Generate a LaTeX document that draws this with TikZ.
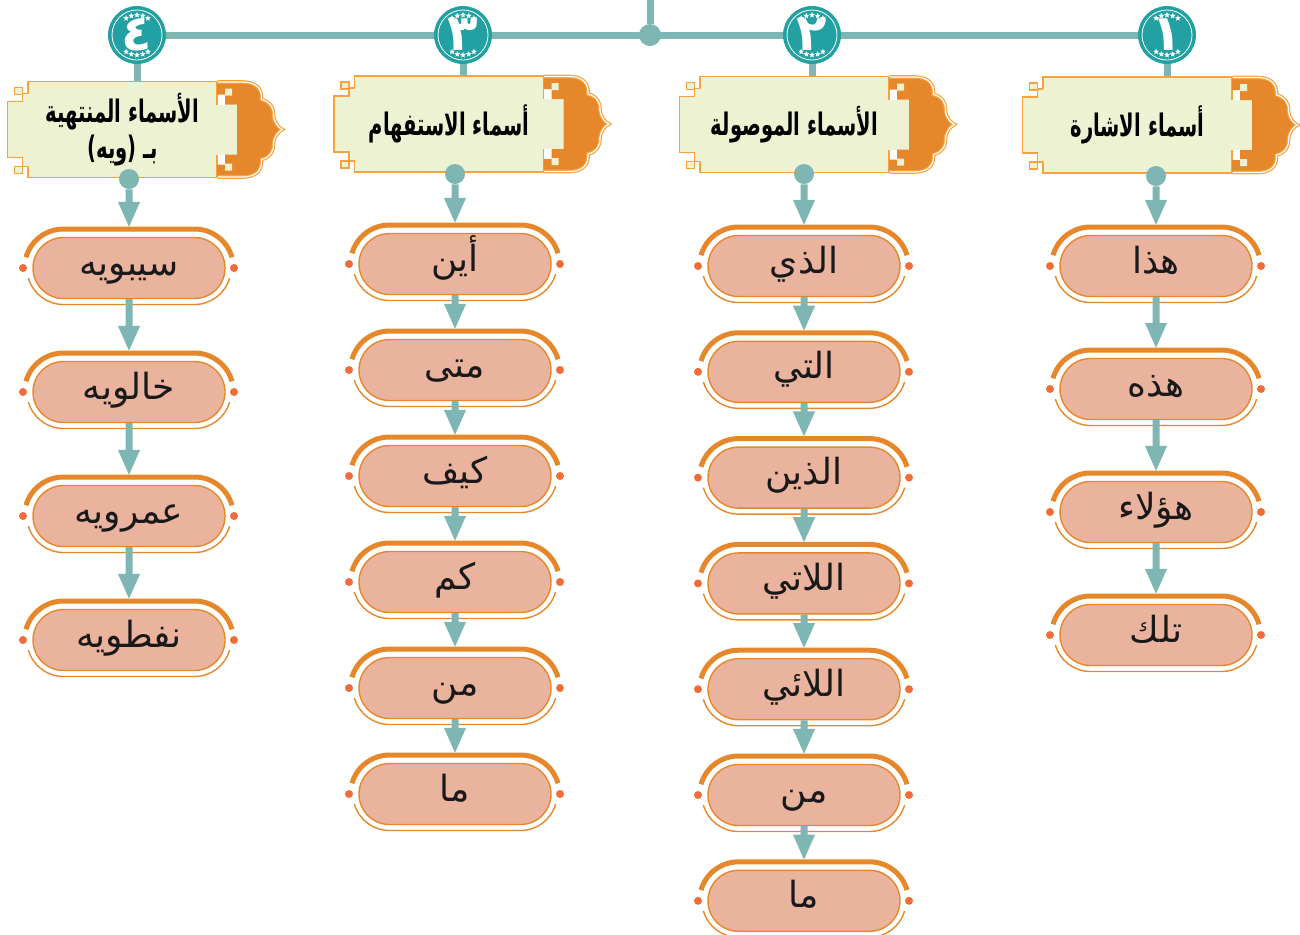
\documentclass[tikz,border=0pt]{standalone}
\usepackage{fontspec}
\newfontfamily\arabicfont[Script=Arabic]{DejaVu Sans}
\newfontfamily\arabickopf[Script=Arabic, FakeStretch=0.63]{DejaVu Sans}
\TeXXeTstate=1
\usetikzlibrary{arrows.meta,shapes.misc,shapes.geometric,backgrounds}

\definecolor{tuerkis}{HTML}{7DB6B3}
\definecolor{kreisgruen}{HTML}{23A1A2}
\definecolor{hellgruen}{HTML}{EDF2D3}
\definecolor{hellorange}{HTML}{F6A23E}
\definecolor{dunkelorange}{HTML}{E5872A}
\definecolor{lachs}{HTML}{EAB39E}
\definecolor{punkt}{HTML}{F26B38}

\newcommand\ar[1]{\arabicfont\beginR #1\endR}
\newcommand\arkopf[1]{\arabickopf\bfseries\beginR #1\endR}

% Boegen und Punkte um einen Eintrag
\newcommand\verzierung[1]{%
  \begin{scope}[shift={(#1.center)}]
    \draw[dunkelorange, line width=2.5pt] (-103,10.75) arc[start angle=164,end angle=90,radius=39]
      -- (65.5,39) arc[start angle=90,end angle=16,radius=39];
    \draw[dunkelorange, line width=0.7pt] (-100.6,-10.06) arc[start angle=196,end angle=270,radius=36.5]
      -- (65.5,-36.5) arc[start angle=270,end angle=344,radius=36.5];
    \fill[punkt] (-106,0) circle[radius=4] (105,0) circle[radius=4];
  \end{scope}}

% Rahmen eines Titels
\newcommand\kopfzier[1]{%
  \begin{scope}[shift={(#1.center)}]
    \fill[hellgruen] (-93,36) -- (-100,36) -- (-100,28) -- (-115,28) -- (-115,-28) -- (-100,-28) -- (-100,-37) -- (-93,-37) -- cycle;
    \draw[hellorange, line width=0.8pt] (-94.5,36) -- (-100,36) -- (-100,28) -- (-115,28) -- (-115,-28) -- (-100,-28) -- (-100,-37) -- (-94.5,-37);
    \draw[hellorange, line width=0.8pt, fill=hellgruen] (-108,35) rectangle (-100,42) (-108,-37) rectangle (-100,-44);
    \fill[hellgruen] (93,-25) rectangle (116,25);
    \fill[dunkelorange] (94.5,48) -- (120,48) .. controls (132,48) and (140,42) .. (139,30)
      .. controls (148,28) and (152,20) .. (151,14) .. controls (152,6) and (156,2) .. (160,0)
      .. controls (156,-2) and (152,-6) .. (151,-14) .. controls (152,-20) and (148,-28) .. (139,-30)
      .. controls (140,-42) and (132,-48) .. (120,-48) -- (94.5,-48) -- (94.5,-35) -- (102.5,-35)
      -- (102.5,-25) -- (114.5,-25) -- (114.5,25) -- (102.5,25) -- (102.5,35) -- (94.5,35) -- cycle;
    \draw[hellorange, double=white, double distance=0.6pt, line width=0.6pt] (95,47.5) -- (120,47.5)
      .. controls (132,47.5) and (140,42) .. (139,30)
      .. controls (148,28) and (152,20) .. (151,14) .. controls (152,6) and (156,2) .. (160,0)
      .. controls (156,-2) and (152,-6) .. (151,-14) .. controls (152,-20) and (148,-28) .. (139,-30)
      .. controls (140,-42) and (132,-47.5) .. (120,-47.5) -- (95,-47.5);
    \fill[hellgruen] (102.5,34) rectangle (109.5,41) (102.5,-41) rectangle (109.5,-34);
  \end{scope}}

\begin{document}
\begin{tikzpicture}[x=0.5pt, y=0.5pt,
  linie/.style={draw=tuerkis, line width=3.5pt},
  pfeil/.style={draw=tuerkis, line width=3.5pt, -{Triangle[width=10pt,length=13pt]}, shorten >=4.5pt},
  kreis/.style={circle, fill=kreisgruen, minimum size=29pt, inner sep=0pt, text=white,
    font=\bfseries\fontsize{25}{25}\selectfont},
  stern/.style={star, star points=5, star point ratio=2.2, fill=white, inner sep=0pt, minimum size=3pt},
  knopf/.style={circle, fill=tuerkis, minimum size=10pt, inner sep=0pt},
  kopf/.style={rectangle, fill=hellgruen, draw=hellorange, line width=0.8pt, minimum width=94.5pt,
    minimum height=48pt, inner sep=0pt, align=center, font=\fontsize{15.5}{18}\selectfont},
  eintrag/.style={rounded rectangle, fill=lachs, draw=dunkelorange, line width=0.7pt, minimum width=96pt,
    minimum height=30.5pt, inner sep=0pt, text height=12.5pt, text depth=5.5pt, text=black!90,
    font=\fontsize{18}{20}\selectfont}]
  \useasboundingbox (0,0) rectangle (1300,-934);

  % Titel
  \foreach \n/\x/\y/\t in {1/1137.5/125/{\arkopf{أسماء الاشارة}},
                           2/794.5/124.5/{\arkopf{الأسماء الموصولة}},
                           3/449/124/{\arkopf{أسماء الاستفهام}},
                           4/122.5/129.5/{\arkopf{الأسماء المنتهية}\\\arkopf{بـ (ويه)}}} {
    \node[kopf] (h\n) at (\x,-\y) {\t};
    \kopfzier{h\n}
  }

  % Kreise mit Nummern
  \foreach \n/\x/\z in {1/1167/١,2/812/٢,3/463/٣,4/137/٤} {
    \node[kreis] (k\n) at (\x,-35) {\ar{\z}};
    \draw[white, line width=0.4pt] (k\n) circle[radius=25];
    \foreach \w in {57,73.5,90,106.5,123} {
      \node[stern] at ([shift={(\w:20)}]k\n) {};
      \node[stern] at ([shift={(-\w:20)}]k\n) {};
    }
  }

  % Verbindungslinien oben
  \coordinate (oben) at (650,5);
  \node[knopf, minimum size=11pt] (mitte) at (650,-35) {};
  \begin{scope}[on background layer]
    \draw[linie] (oben) -- (mitte);
    \draw[linie] (k4) -- (k1);
    \foreach \n in {1,...,4}
      \draw[linie] (k\n) -- (k\n |- h\n.north);
  \end{scope}

  % Spalte 1
  \node[knopf] (s1-0) at (1156,-176) {};
  \foreach \t [count=\i, remember=\i as \j (initially 0)] in {هذا,هذه,هؤلاء,تلك} {
    \node[eintrag] (s1-\i) at (1156,{-266-123*(\i-1)}) {\ar{\t}};
    \verzierung{s1-\i}
    \draw[pfeil] (s1-\j) -- (s1-\i);
  }

  % Spalte 2
  \node[knopf] (s2-0) at (804,-174) {};
  \foreach \t [count=\i, remember=\i as \j (initially 0)] in {الذي,التي,الذين,اللاتي,اللائي,من,ما} {
    \node[eintrag] (s2-\i) at (804,{-266-105.8*(\i-1)}) {\ar{\t}};
    \verzierung{s2-\i}
    \draw[pfeil] (s2-\j) -- (s2-\i);
  }

  % Spalte 3
  \node[knopf] (s3-0) at (455,-174) {};
  \foreach \t [count=\i, remember=\i as \j (initially 0)] in {أين,متى,كيف,كم,من,ما} {
    \node[eintrag] (s3-\i) at (455,{-264-106*(\i-1)}) {\ar{\t}};
    \verzierung{s3-\i}
    \draw[pfeil] (s3-\j) -- (s3-\i);
  }

  % Spalte 4
  \node[knopf] (s4-0) at (129,-179) {};
  \foreach \t [count=\i, remember=\i as \j (initially 0)] in {سيبويه,خالويه,عمرويه,نفطويه} {
    \node[eintrag] (s4-\i) at (129,{-268-124*(\i-1)}) {\ar{\t}};
    \verzierung{s4-\i}
    \draw[pfeil] (s4-\j) -- (s4-\i);
  }
\end{tikzpicture}
\end{document}
